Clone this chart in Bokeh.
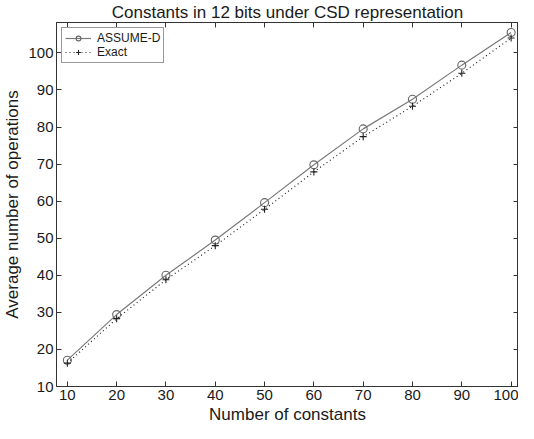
from bokeh.plotting import figure
from bokeh.models import LinearAxis, Range1d, FixedTicker, Title
from bokeh.embed import file_html
from bokeh.resources import INLINE

num_constants = [10, 20, 30, 40, 50, 60, 70, 80, 90, 100]
assume_d = [17.1, 29.4, 40.0, 49.5, 59.6, 69.8, 79.5, 87.5, 96.7, 105.5]
exact = [16.3, 28.3, 38.8, 48.0, 57.8, 67.9, 77.4, 85.6, 94.5, 104.0]
x_ticks = [10, 20, 30, 40, 50, 60, 70, 80, 90, 100]
y_ticks = [10, 20, 30, 40, 50, 60, 70, 80, 90, 100]

FONT = "Liberation Sans"
INK = "#1a1a1a"
AX = "#333333"

p = figure(width=518, height=423, output_backend="svg", toolbar_location=None,
           x_range=Range1d(7.8, 101.5), y_range=Range1d(10, 108.2),
           min_border_left=0, min_border_right=0, min_border_top=22, min_border_bottom=0)

p.title = Title(text="Constants in 12 bits under CSD representation", align="center",
                text_font=FONT, text_font_size="17px", text_font_style="normal",
                text_color=INK, standoff=1)
p.grid.visible = False
p.outline_line_color = AX
p.background_fill_color = "white"

for ax in [p.xaxis[0], p.yaxis[0]]:
    ax.major_label_text_font = FONT
    ax.major_label_text_font_size = "15px"
    ax.major_label_text_color = INK
    ax.axis_label_text_font = FONT
    ax.axis_label_text_font_size = "17px"
    ax.axis_label_text_font_style = "normal"
    ax.axis_label_text_color = INK
    ax.axis_line_color = AX
    ax.major_tick_line_color = AX
    ax.major_tick_in = 5
    ax.major_tick_out = 0
    ax.minor_tick_line_color = None

p.xaxis[0].ticker = FixedTicker(ticks=x_ticks)
p.yaxis[0].ticker = FixedTicker(ticks=y_ticks)
p.yaxis[0].axis_label = "Average number of operations"
p.yaxis[0].axis_label_standoff = 3
p.xaxis[0].major_label_standoff = 3
p.yaxis[0].major_label_standoff = 3

xlabel = Title(text="Number of constants", align="center", text_font=FONT,
               text_font_size="17px", text_font_style="normal", text_color=INK,
               standoff=0)
p.add_layout(xlabel, "below")

blank_x = {t: "" for t in x_ticks}
blank_y = {t: "" for t in y_ticks}
top = LinearAxis(ticker=FixedTicker(ticks=x_ticks), major_label_overrides=blank_x,
                 major_tick_in=5, major_tick_out=0, minor_tick_line_color=None,
                 axis_line_color=AX, major_tick_line_color=AX,
                 major_label_standoff=0)
right = LinearAxis(ticker=FixedTicker(ticks=y_ticks), major_label_overrides=blank_y,
                   major_tick_in=5, major_tick_out=0, minor_tick_line_color=None,
                   axis_line_color=AX, major_tick_line_color=AX,
                   major_label_standoff=0)
p.add_layout(top, "above")
p.add_layout(right, "right")

p.line(num_constants, assume_d, line_color="#7a7a7a", line_width=1.2, legend_label="ASSUME-D")
p.scatter(num_constants, assume_d, marker="circle", size=8, fill_color=None,
          line_color="#666666", line_width=1.1, legend_label="ASSUME-D")
p.line(num_constants, exact, line_color="#222222", line_width=1.2, line_dash="1 3",
       legend_label="Exact")
p.scatter(num_constants, exact, marker="cross", size=7, line_color="#222222",
          line_width=1.1, legend_label="Exact")

lg = p.legend[0]
lg.location = "top_left"
lg.label_text_font = FONT
lg.label_text_font_size = "12px"
lg.label_text_color = INK
lg.border_line_color = AX
lg.border_line_width = 1
lg.margin = 5
lg.padding = 3
lg.spacing = 0
lg.glyph_height = 12
lg.glyph_width = 26
lg.label_height = 12
lg.label_standoff = 6
lg.background_fill_alpha = 1.0

open("out.html", "w").write(file_html(p, INLINE))
